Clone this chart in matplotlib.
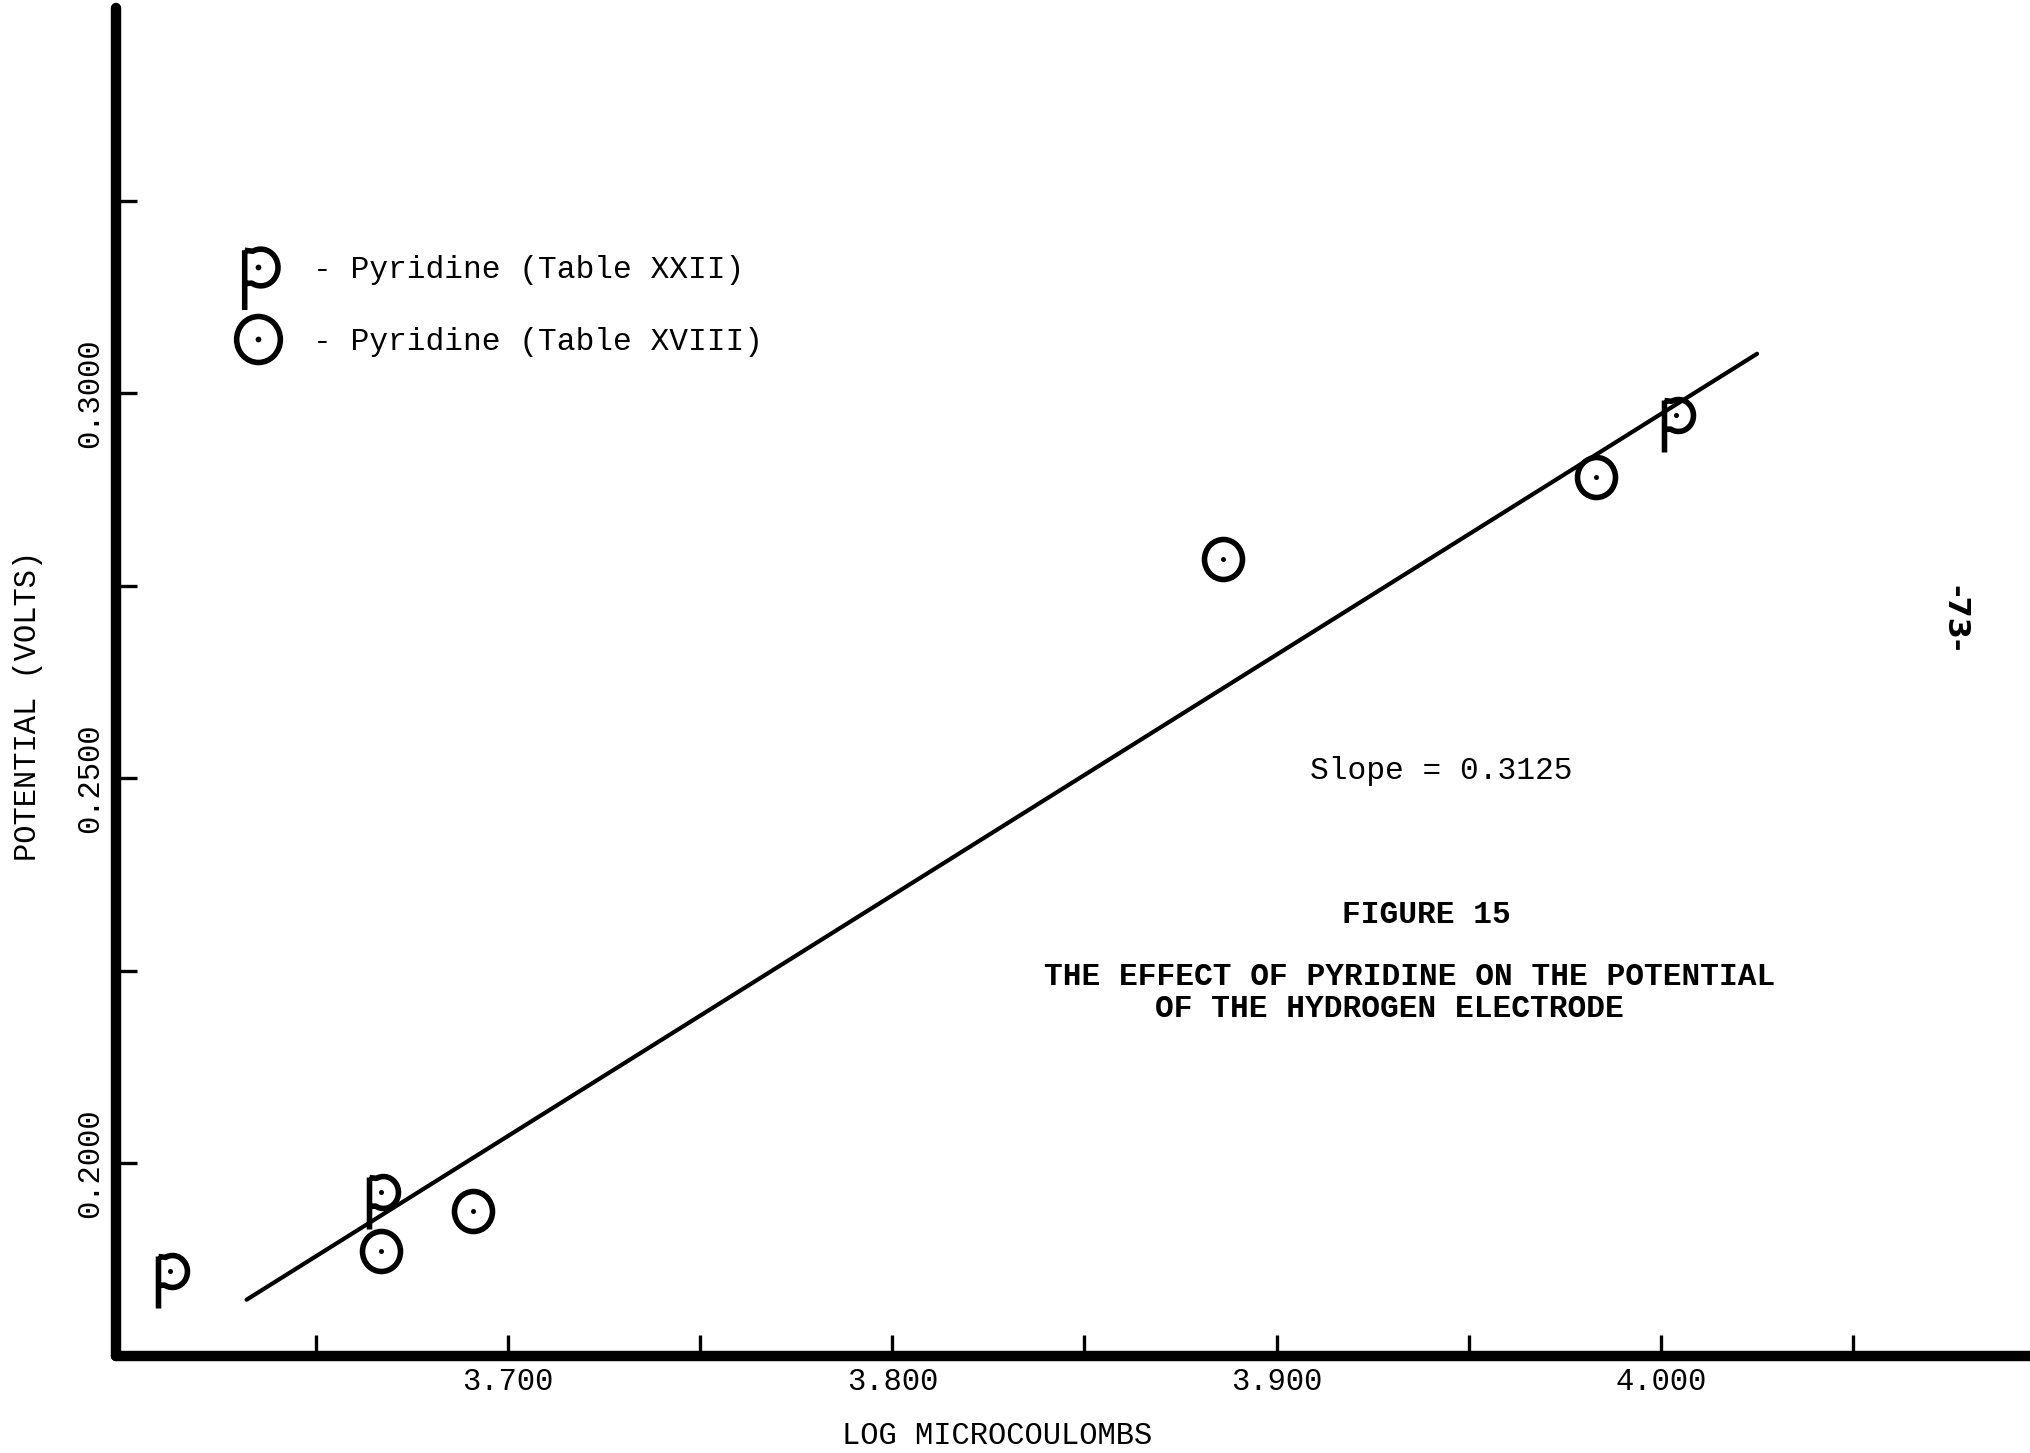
import numpy as np
import matplotlib
matplotlib.use("Agg")
import matplotlib.pyplot as plt
from matplotlib.path import Path
from matplotlib.transforms import Affine2D
from matplotlib.lines import Line2D

plt.rcParams['font.family'] = ['Liberation Mono', 'DejaVu Sans Mono']

DPI = 100

# Pyridine, Table XXII: log microcoulombs vs potential (volts)
table22_x = [3.612, 3.667, 4.004]
table22_y = [0.1860, 0.1963, 0.2972]

# Pyridine, Table XVIII
table18_x = [3.667, 3.691, 3.886, 3.983]
table18_y = [0.1886, 0.1938, 0.2784, 0.2891]

# straight line drawn through the points
slope = 0.3125
intercept = -0.9527
fit_x = [3.632, 4.025]

x_ticks = [3.650, 3.700, 3.750, 3.800, 3.850, 3.900, 3.950, 4.000, 4.050]
x_labels = ["", "3.700", "", "3.800", "", "3.900", "", "4.000", ""]
y_ticks = [0.200, 0.225, 0.250, 0.275, 0.300, 0.325]
y_labels = ["0.2000", "", "0.2500", "", "0.3000", ""]


def marker_size(path):
    # custom paths get normalised to their largest coordinate
    return 2 * np.abs(path.vertices).max() * 72 / DPI


# hand lettered "P" (units are pixels, origin at the dot in the bowl)
ang = np.radians(np.linspace(118, -122, 24))
bowl = [(-12, 15)] + list(zip(2 + 15 * np.cos(ang), 16 * np.sin(ang))) + [(-12, -14)]
p_marker = Path([(-12, 15), (-12, -37)] + bowl,
                [Path.MOVETO, Path.LINETO, Path.MOVETO] + [Path.LINETO] * (len(bowl) - 1))

# ring around the dot
o_marker = Path.unit_circle().transformed(Affine2D().scale(19, 20))

fig = plt.figure(figsize=(20.30, 14.53), dpi=DPI)
ax = fig.add_axes([0.0571, 0.0668, 0.9429, 0.9277])

mk = dict(ls='none', color='black', mfc='none', mew=4.0)
dot = dict(ls='none', color='black', marker='o', ms=3.6, mew=0)
ax.plot(table22_x, table22_y, marker=p_marker, ms=marker_size(p_marker), **mk)
ax.plot(table22_x, table22_y, **dot)
ax.plot(table18_x, table18_y, marker=o_marker, ms=marker_size(o_marker), **mk)
ax.plot(table18_x, table18_y, **dot)

fit_y = [intercept + slope * x for x in fit_x]
ax.plot(fit_x, fit_y, color='black', lw=3.0, solid_capstyle='round')

ax.set_xlim(3.598, 4.096)
ax.set_ylim(0.175, 0.350)

ax.set_xticks(x_ticks)
ax.set_xticklabels(x_labels)
ax.set_yticks(y_ticks)
ax.set_yticklabels(y_labels, rotation=90, va='center')
ax.tick_params(direction='in', length=15, width=2.4, labelsize=22)
ax.tick_params(axis='x', pad=8)
ax.tick_params(axis='y', pad=8)

for side in ('top', 'right'):
    ax.spines[side].set_visible(False)
for side in ('left', 'bottom'):
    ax.spines[side].set_linewidth(7.5)
    ax.spines[side].set_capstyle('round')

ax.set_xlabel("LOG MICROCOULOMBS", fontsize=22)
ax.xaxis.set_label_coords(0.4603, -0.048)
ax.set_ylabel("POTENTIAL (VOLTS)", fontsize=22, va='center')
ax.yaxis.set_label_coords(-0.046, 0.482)

handles = [
    (Line2D([], [], marker=p_marker, ms=marker_size(p_marker), **mk), Line2D([], [], **dot)),
    (Line2D([], [], marker=o_marker, ms=marker_size(o_marker), **mk), Line2D([], [], **dot)),
]
ax.legend(handles, ["- Pyridine (Table XXII)", "- Pyridine (Table XVIII)"],
          loc='upper left', bbox_to_anchor=(0.058, 0.817), frameon=False,
          fontsize=22.5, markerscale=1.15, handlelength=2.0, handletextpad=0.75,
          labelspacing=1.35, borderpad=0, borderaxespad=0)

ax.text(3.9429, 0.2510, "Slope = 0.3125", fontsize=22.5, ha='center', va='center')
ax.text(3.9390, 0.2323, "FIGURE 15", fontsize=22.5, weight='bold', ha='center', va='center')
ax.text(3.9345, 0.2242, "THE EFFECT OF PYRIDINE ON THE POTENTIAL",
        fontsize=22.5, weight='bold', ha='center', va='center')
ax.text(3.9294, 0.2201, "OF THE HYDROGEN ELECTRODE",
        fontsize=22.5, weight='bold', ha='center', va='center')

fig.text(0.963, 0.574, "-73-", rotation=-90, fontsize=22, weight='bold',
         family='DejaVu Sans', ha='center', va='center')

fig.savefig("out.png", dpi=DPI)
